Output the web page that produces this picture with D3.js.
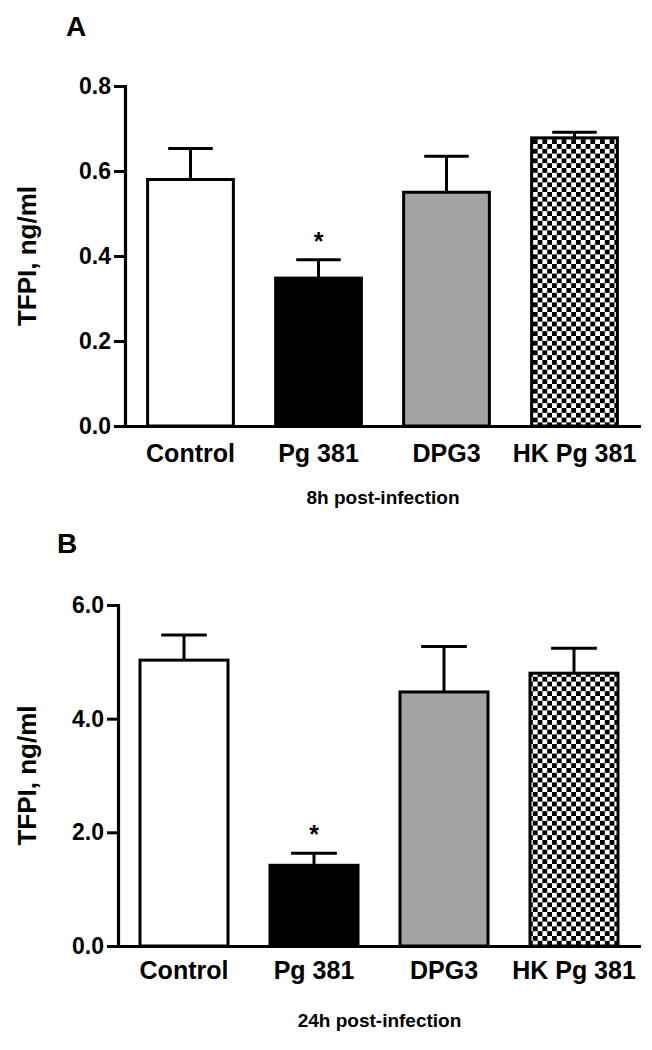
<!DOCTYPE html>
<html><head><meta charset="utf-8">
<script src="https://cdn.jsdelivr.net/npm/d3@7"></script>
<style>body{margin:0;background:#fff}svg{display:block}text{font-family:"Liberation Sans",Arial,sans-serif;font-weight:bold;fill:#000}</style>
</head><body><svg id="c" width="652" height="1050"></svg>
<script>
const categories = ["Control", "Pg 381", "DPG3", "HK Pg 381"];
const meansA = [0.58, 0.348, 0.55, 0.678];
const errA = [0.073, 0.043, 0.085, 0.013];
const meansB = [5.03, 1.42, 4.47, 4.80];
const errB = [0.44, 0.21, 0.80, 0.44];
const ticksA = [0, 0.2, 0.4, 0.6, 0.8];
const ticksB = [0, 2, 4, 6];
const sigA = [false, true, false, false];
const sigB = [false, true, false, false];
const fills = ["#ffffff", "#000000", "#a3a3a3", "url(#checker)"];

const svg = d3.select("#c");
const defs = svg.append("defs");
const P = 9.6;
const pat = defs.append("pattern").attr("id", "checker").attr("patternUnits", "userSpaceOnUse")
  .attr("width", P).attr("height", P);
pat.append("rect").attr("width", P).attr("height", P).attr("fill", "#fff");
pat.append("rect").attr("width", P / 2).attr("height", P / 2).attr("fill", "#000");
pat.append("rect").attr("x", P / 2).attr("y", P / 2).attr("width", P / 2).attr("height", P / 2).attr("fill", "#000");

function panel(cfg) {
  const g = svg.append("g");
  const y = d3.scaleLinear().domain([0, cfg.max]).range([cfg.y0, cfg.y1]);
  const x = d3.scaleBand().domain(categories).range(cfg.xr).paddingInner(cfg.pad).paddingOuter(cfg.pad / 2);
  // y axis
  const ya = g.append("g").attr("transform", `translate(${cfg.ax},0)`)
    .call(d3.axisLeft(y).tickValues(cfg.ticks).tickFormat(d3.format(".1f")).tickSize(11).tickSizeOuter(0).tickPadding(3));
  ya.select(".domain").attr("stroke", "#000").attr("stroke-width", 3.2).attr("d", `M0.5,${cfg.y0}V${cfg.y1 - 1}`);
  ya.selectAll(".tick line").attr("stroke", "#000").attr("stroke-width", 3);
  ya.selectAll(".tick text").style("font-size", "23px").style("font-family", '"Liberation Sans",Arial,sans-serif').style("font-weight", "bold").attr("fill", "#000");
  // bars
  g.selectAll("rect.bar").data(cfg.means).join("rect").attr("class", "bar")
    .attr("x", (d, i) => x(categories[i]))
    .attr("width", x.bandwidth())
    .attr("y", d => y(d))
    .attr("height", d => cfg.y0 - y(d))
    .attr("fill", (d, i) => fills[i]).attr("stroke", "#000").attr("stroke-width", 3);
  // error bars
  const capW = x.bandwidth() * 0.52;
  cfg.means.forEach((m, i) => {
    const cx = x(categories[i]) + x.bandwidth() / 2;
    g.append("line").attr("x1", cx).attr("x2", cx).attr("y1", y(m)).attr("y2", y(m + cfg.err[i]))
      .attr("stroke", "#000").attr("stroke-width", 3);
    g.append("line").attr("x1", cx - capW / 2).attr("x2", cx + capW / 2).attr("y1", y(m + cfg.err[i])).attr("y2", y(m + cfg.err[i]))
      .attr("stroke", "#000").attr("stroke-width", 3);
    if (cfg.sig[i]) {
      g.append("text").attr("x", cx).attr("y", y(m + cfg.err[i]) - 10).attr("text-anchor", "middle")
        .style("font-size", "25px").text("*");
    }
  });
  // x axis line
  g.append("line").attr("x1", cfg.ax - 11).attr("x2", cfg.xEnd).attr("y1", cfg.y0 + 0.5).attr("y2", cfg.y0 + 0.5)
    .attr("stroke", "#000").attr("stroke-width", 3.2);
  // x labels
  categories.forEach((c, i) => {
    g.append("text").attr("x", x(c) + x.bandwidth() / 2).attr("y", cfg.y0 + cfg.lblDy).attr("text-anchor", "middle")
      .style("font-size", "25px").text(c);
  });
  g.append("text").attr("x", (cfg.ax + cfg.xEnd) / 2).attr("y", cfg.y0 + cfg.subDy).attr("text-anchor", "middle")
    .style("font-size", "19px").text(cfg.sub);
  g.append("text").attr("transform", `translate(${cfg.ylx},${(cfg.y0 + cfg.y1) / 2}) rotate(-90)`)
    .attr("text-anchor", "middle").style("font-size", "26px").text("TFPI, ng/ml");
  g.append("text").attr("x", cfg.tx).attr("y", cfg.ty).style("font-size", "28px").text(cfg.title);
}

panel({ max: 0.8, y0: 426, y1: 86, ax: 125, xr: [126.5, 638.5], pad: 0.33, xEnd: 641, lblDy: 36, subDy: 78,
  ticks: ticksA, means: meansA, err: errA, sig: sigA, sub: "8h post-infection", ylx: 36, title: "A", tx: 66, ty: 36 });
panel({ max: 6, y0: 946, y1: 605, ax: 118, xr: [119, 639], pad: 0.323, xEnd: 641, lblDy: 33, subDy: 81,
  ticks: ticksB, means: meansB, err: errB, sig: sigB, sub: "24h post-infection", ylx: 36, title: "B", tx: 57, ty: 553 });
</script></body></html>
